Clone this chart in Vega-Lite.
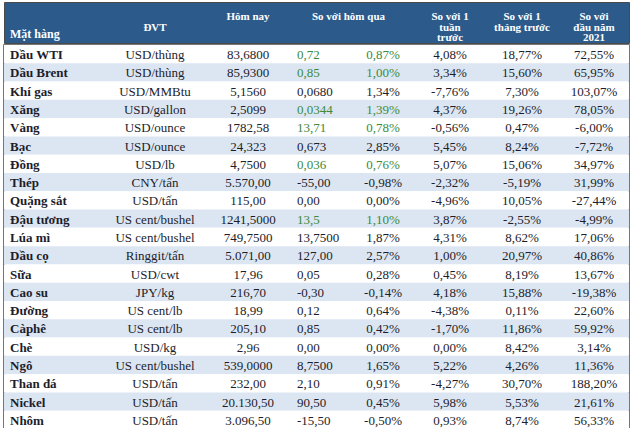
{
  "$schema": "https://vega.github.io/schema/vega-lite/v6.json",
  "background": "#ffffff",
  "padding": {"left": 3, "top": 1, "right": 2, "bottom": 0},
  "spacing": 0,
  "config": {"font": "Liberation Serif"},
  "vconcat": [
    {
      "width": 625,
      "height": 41,
      "view": {"fill": "#2c5b8b", "stroke": "#4a4a4a", "strokeWidth": 1},
      "data": {"values": [
        {"col": 0, "line": 3, "label": "Mặt hàng"},
        {"col": 1, "line": 2, "label": "ĐVT"},
        {"col": 2, "line": 1, "label": "Hôm nay"},
        {"col": 4, "line": 1, "label": "So với hôm qua"},
        {"col": 6, "line": 1, "label": "So với 1"},
        {"col": 6, "line": 2, "label": "tuần"},
        {"col": 6, "line": 3, "label": "trước"},
        {"col": 7, "line": 1, "label": "So với 1"},
        {"col": 7, "line": 2, "label": "tháng trước"},
        {"col": 8, "line": 1, "label": "So với"},
        {"col": 8, "line": 2, "label": "đầu năm"},
        {"col": 8, "line": 3, "label": "2021"}
      ]},
      "layer": [
        {
          "transform": [{"filter": "datum.col > 0"}],
          "mark": {"type": "text", "align": "center", "baseline": "middle", "fontWeight": "bold", "fontSize": 11, "color": "#ffffff"},
          "encoding": {
            "x": {"field": "col", "type": "quantitative", "axis": null, "scale": {"domain": [0, 1, 2, 3, 4, 5, 6, 7, 8], "range": [6, 151, 244, 293, 344.5, 379, 446, 518, 590]}},
            "y": {"field": "line", "type": "quantitative", "axis": null, "scale": {"domain": [-0.257, 3.371], "reverse": true}},
            "text": {"field": "label"}
          }
        },
        {
          "transform": [{"filter": "datum.col == 0"}],
          "mark": {"type": "text", "align": "left", "baseline": "middle", "fontWeight": "bold", "fontSize": 12, "color": "#ffffff", "dy": -4},
          "encoding": {
            "x": {"field": "col", "type": "quantitative"},
            "y": {"field": "line", "type": "quantitative"},
            "text": {"field": "label"}
          }
        }
      ]
    },
    {
      "width": 625,
      "height": 384,
      "view": {"stroke": "#4a4a4a", "strokeWidth": 1.5},
      "data": {"values": [
        {"item": "Dầu WTI", "unit": "USD/thùng", "today": "83,6800", "chg": "0,72", "chgPct": "0,87%", "week": "4,08%", "month": "18,77%", "ytd": "72,55%", "up": true},
        {"item": "Dầu Brent", "unit": "USD/thùng", "today": "85,9300", "chg": "0,85", "chgPct": "1,00%", "week": "3,34%", "month": "15,60%", "ytd": "65,95%", "up": true},
        {"item": "Khí gas", "unit": "USD/MMBtu", "today": "5,1560", "chg": "0,0680", "chgPct": "1,34%", "week": "-7,76%", "month": "7,30%", "ytd": "103,07%", "up": false},
        {"item": "Xăng", "unit": "USD/gallon", "today": "2,5099", "chg": "0,0344", "chgPct": "1,39%", "week": "4,37%", "month": "19,26%", "ytd": "78,05%", "up": true},
        {"item": "Vàng", "unit": "USD/ounce", "today": "1782,58", "chg": "13,71", "chgPct": "0,78%", "week": "-0,56%", "month": "0,47%", "ytd": "-6,00%", "up": true},
        {"item": "Bạc", "unit": "USD/ounce", "today": "24,323", "chg": "0,673", "chgPct": "2,85%", "week": "5,45%", "month": "8,24%", "ytd": "-7,72%", "up": false},
        {"item": "Đồng", "unit": "USD/lb", "today": "4,7500", "chg": "0,036", "chgPct": "0,76%", "week": "5,07%", "month": "15,06%", "ytd": "34,97%", "up": true},
        {"item": "Thép", "unit": "CNY/tấn", "today": "5.570,00", "chg": "-55,00", "chgPct": "-0,98%", "week": "-2,32%", "month": "-5,19%", "ytd": "31,99%", "up": false},
        {"item": "Quặng sắt", "unit": "USD/tấn", "today": "115,00", "chg": "0,00", "chgPct": "0,00%", "week": "-4,96%", "month": "10,05%", "ytd": "-27,44%", "up": false},
        {"item": "Đậu tương", "unit": "US cent/bushel", "today": "1241,5000", "chg": "13,5", "chgPct": "1,10%", "week": "3,87%", "month": "-2,55%", "ytd": "-4,99%", "up": true},
        {"item": "Lúa mì", "unit": "US cent/bushel", "today": "749,7500", "chg": "13,7500", "chgPct": "1,87%", "week": "4,31%", "month": "8,62%", "ytd": "17,06%", "up": false},
        {"item": "Dầu cọ", "unit": "Ringgit/tấn", "today": "5.071,00", "chg": "127,00", "chgPct": "2,57%", "week": "1,00%", "month": "20,97%", "ytd": "40,86%", "up": false},
        {"item": "Sữa", "unit": "USD/cwt", "today": "17,96", "chg": "0,05", "chgPct": "0,28%", "week": "0,45%", "month": "8,19%", "ytd": "13,67%", "up": false},
        {"item": "Cao su", "unit": "JPY/kg", "today": "216,70", "chg": "-0,30", "chgPct": "-0,14%", "week": "4,18%", "month": "15,88%", "ytd": "-19,38%", "up": false},
        {"item": "Đường", "unit": "US cent/lb", "today": "18,99", "chg": "0,12", "chgPct": "0,64%", "week": "-4,38%", "month": "0,11%", "ytd": "22,60%", "up": false},
        {"item": "Càphê", "unit": "US cent/lb", "today": "205,10", "chg": "0,85", "chgPct": "0,42%", "week": "-1,70%", "month": "11,86%", "ytd": "59,92%", "up": false},
        {"item": "Chè", "unit": "USD/kg", "today": "2,96", "chg": "0,00", "chgPct": "0,00%", "week": "0,00%", "month": "8,42%", "ytd": "3,14%", "up": false},
        {"item": "Ngô", "unit": "US cent/bushel", "today": "539,0000", "chg": "8,7500", "chgPct": "1,65%", "week": "5,22%", "month": "4,26%", "ytd": "11,36%", "up": false},
        {"item": "Than đá", "unit": "USD/tấn", "today": "232,00", "chg": "2,10", "chgPct": "0,91%", "week": "-4,27%", "month": "30,70%", "ytd": "188,20%", "up": false},
        {"item": "Nickel", "unit": "USD/tấn", "today": "20.130,50", "chg": "90,50", "chgPct": "0,45%", "week": "5,98%", "month": "5,53%", "ytd": "21,61%", "up": false},
        {"item": "Nhôm", "unit": "USD/tấn", "today": "3.096,50", "chg": "-15,50", "chgPct": "-0,50%", "week": "0,93%", "month": "8,74%", "ytd": "56,33%", "up": false}
      ]},
      "encoding": {
        "y": {"field": "item", "type": "nominal", "sort": null, "axis": null, "scale": {"paddingInner": 0, "paddingOuter": 0}}
      },
      "layer": [
        {
          "mark": {"type": "rect"},
          "encoding": {
            "color": {"field": "item", "type": "nominal", "sort": null, "legend": null, "scale": {"range": ["#ffffff", "#dce6f2"]}}
          }
        },
        {
          "mark": {"type": "text", "align": "left", "baseline": "middle", "fontWeight": "bold", "fontSize": 13, "color": "#1d1d2b", "dy": 1},
          "encoding": {
            "x": {"datum": 0, "type": "quantitative", "axis": null, "scale": {"domain": [0, 1, 2, 3, 4, 5, 6, 7, 8], "range": [6, 151, 244, 293, 344.5, 379, 446, 518, 590]}},
            "text": {"field": "item"}
          }
        },
        {
          "mark": {"type": "text", "align": "center", "baseline": "middle", "fontSize": 13, "color": "#1d1d2b", "dy": 1},
          "encoding": {"x": {"datum": 1, "type": "quantitative"}, "text": {"field": "unit"}}
        },
        {
          "mark": {"type": "text", "align": "center", "baseline": "middle", "fontSize": 13, "color": "#1d1d2b", "dy": 1},
          "encoding": {"x": {"datum": 2, "type": "quantitative"}, "text": {"field": "today"}}
        },
        {
          "mark": {"type": "text", "align": "left", "baseline": "middle", "fontSize": 13, "dy": 1},
          "encoding": {
            "x": {"datum": 3, "type": "quantitative"},
            "text": {"field": "chg"},
            "color": {"condition": {"test": "datum.up", "value": "#3b8a3b"}, "value": "#1d1d2b"}
          }
        },
        {
          "mark": {"type": "text", "align": "center", "baseline": "middle", "fontSize": 13, "dy": 1},
          "encoding": {
            "x": {"datum": 5, "type": "quantitative"},
            "text": {"field": "chgPct"},
            "color": {"condition": {"test": "datum.up", "value": "#3b8a3b"}, "value": "#1d1d2b"}
          }
        },
        {
          "mark": {"type": "text", "align": "center", "baseline": "middle", "fontSize": 13, "color": "#1d1d2b", "dy": 1},
          "encoding": {"x": {"datum": 6, "type": "quantitative"}, "text": {"field": "week"}}
        },
        {
          "mark": {"type": "text", "align": "center", "baseline": "middle", "fontSize": 13, "color": "#1d1d2b", "dy": 1},
          "encoding": {"x": {"datum": 7, "type": "quantitative"}, "text": {"field": "month"}}
        },
        {
          "mark": {"type": "text", "align": "center", "baseline": "middle", "fontSize": 13, "color": "#1d1d2b", "dy": 1},
          "encoding": {"x": {"datum": 8, "type": "quantitative"}, "text": {"field": "ytd"}}
        }
      ]
    }
  ]
}
